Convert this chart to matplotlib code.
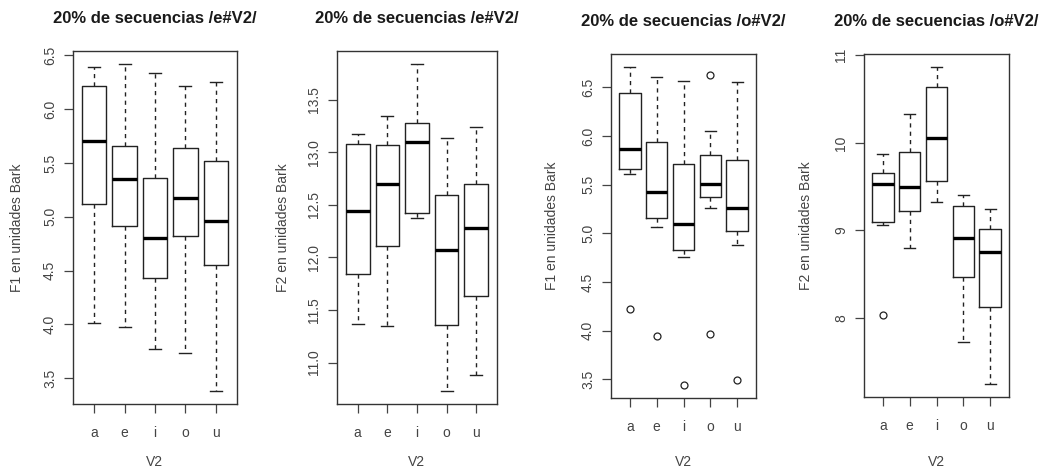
import numpy as np
import matplotlib
matplotlib.use('Agg')
from matplotlib import pyplot as plt

plt.rcParams['font.family'] = ['Liberation Sans', 'DejaVu Sans']

vowels = ['a', 'e', 'i', 'o', 'u']

# F1 /e#V2/
f1e_lo = [4.01, 3.97, 3.77, 3.73, 3.38]
f1e_q1 = [5.12, 4.91, 4.43, 4.82, 4.55]
f1e_med = [5.70, 5.35, 4.80, 5.17, 4.96]
f1e_q3 = [6.22, 5.66, 5.36, 5.64, 5.52]
f1e_hi = [6.39, 6.42, 6.34, 6.22, 6.25]
f1e_out = [[], [], [], [], []]

# F2 /e#V2/
f2e_lo = [11.37, 11.35, 12.38, 10.73, 10.88]
f2e_q1 = [11.84, 12.11, 12.42, 11.36, 11.63]
f2e_med = [12.44, 12.70, 13.10, 12.07, 12.28]
f2e_q3 = [13.08, 13.07, 13.28, 12.59, 12.70]
f2e_hi = [13.17, 13.35, 13.84, 13.14, 13.24]
f2e_out = [[], [], [], [], []]

# F1 /o#V2/
f1o_lo = [5.61, 5.06, 4.76, 5.26, 4.88]
f1o_q1 = [5.66, 5.16, 4.83, 5.37, 5.02]
f1o_med = [5.87, 5.42, 5.10, 5.51, 5.26]
f1o_q3 = [6.44, 5.94, 5.71, 5.80, 5.75]
f1o_hi = [6.71, 6.60, 6.56, 6.05, 6.55]
f1o_out = [[4.22], [3.95], [3.44], [6.63, 3.97], [3.49]]

# F2 /o#V2/
f2o_lo = [9.06, 8.80, 9.32, 7.72, 7.24]
f2o_q1 = [9.09, 9.22, 9.56, 8.47, 8.12]
f2o_med = [9.53, 9.50, 10.06, 8.91, 8.75]
f2o_q3 = [9.65, 9.90, 10.64, 9.28, 9.02]
f2o_hi = [9.87, 10.33, 10.87, 9.40, 9.24]
f2o_out = [[8.03], [], [], [], []]

panels = [
    ("20% de secuencias /e#V2/", "F1 en unidades Bark",
     (f1e_lo, f1e_q1, f1e_med, f1e_q3, f1e_hi, f1e_out),
     np.arange(3.5, 6.51, 0.5), '%.1f', (73, 237, 51, 404), 17),
    ("20% de secuencias /e#V2/", "F2 en unidades Bark",
     (f2e_lo, f2e_q1, f2e_med, f2e_q3, f2e_hi, f2e_out),
     np.arange(11.0, 13.51, 0.5), '%.1f', (337, 497, 51, 404), 283),
    ("20% de secuencias /o#V2/", "F1 en unidades Bark",
     (f1o_lo, f1o_q1, f1o_med, f1o_q3, f1o_hi, f1o_out),
     np.arange(3.5, 6.51, 0.5), '%.1f', (611, 756, 54, 398), 552),
    ("20% de secuencias /o#V2/", "F2 en unidades Bark",
     (f2o_lo, f2o_q1, f2o_med, f2o_q3, f2o_hi, f2o_out),
     [8, 9, 10, 11], '%d', (864, 1009, 54, 397), 806),
]

W, H = 1050, 471
fig = plt.figure(figsize=(W / 100, H / 100), dpi=100)
linec = '#222222'
textc = '#444444'

for title, ylab, (lo, q1, med, q3, hi, out), yt, fmt, (x0, x1, y0, y1), ylx in panels:
    ax = fig.add_axes([x0 / W, (H - y1) / H, (x1 - x0) / W, (y1 - y0) / H])
    stats = []
    for k in range(len(vowels)):
        stats.append(dict(whislo=lo[k], q1=q1[k], med=med[k], q3=q3[k],
                          whishi=hi[k], fliers=out[k]))
    ax.bxp(stats, positions=range(1, 6), widths=0.8, capwidths=0.4,
           boxprops=dict(color=linec, lw=1.0),
           whiskerprops=dict(color=linec, lw=1.0, linestyle=(0, (3, 3))),
           capprops=dict(color=linec, lw=1.0),
           medianprops=dict(color='black', lw=2.4, solid_capstyle='butt'),
           flierprops=dict(marker='o', markerfacecolor='none',
                           markeredgecolor=linec, markersize=5, markeredgewidth=0.9))
    # R-style 4% extension of the data range
    allv = lo + hi + [v for o in out for v in o]
    pad = 0.04 * (max(allv) - min(allv))
    ax.set_ylim(min(allv) - pad, max(allv) + pad)
    ax.set_xlim(0.3, 5.7)
    ax.set_xticks(range(1, 6))
    ax.set_xticklabels(vowels)
    ax.set_yticks(yt)
    ax.set_yticklabels([fmt % v for v in yt], rotation=90, va='center')
    ax.tick_params(axis='both', length=6.5, width=0.9, color=textc,
                   labelsize=10, labelcolor=textc, pad=5)
    ax.tick_params(axis='x', pad=9)
    for s in ax.spines.values():
        s.set_color('#333333')
        s.set_linewidth(1.0)
    ax.set_title(title, fontsize=12, fontweight='bold', color='#1a1a1a', pad=20)
    ax.set_ylabel(ylab, fontsize=10, color=textc, va='center')
    ax.yaxis.set_label_coords((ylx - x0) / (x1 - x0), 0.5)
    ax.set_xlabel("V2", fontsize=10, color=textc, va='center')
    ax.xaxis.set_label_coords(0.5, -(462 - y1) / (y1 - y0))

fig.savefig('out.png', dpi=100)
